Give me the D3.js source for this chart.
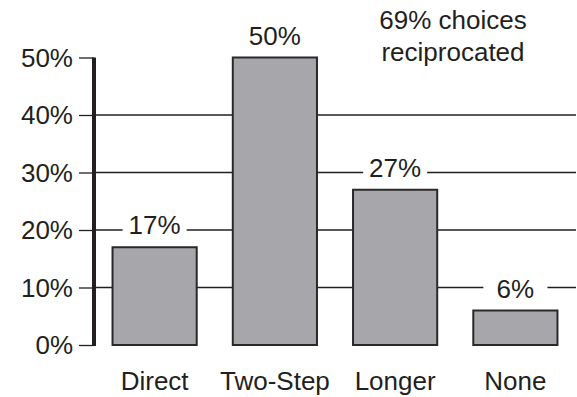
<!DOCTYPE html>
<html>
<head>
<meta charset="utf-8">
<script src="https://cdn.jsdelivr.net/npm/d3@7"></script>
<style>
  html, body { margin: 0; padding: 0; background: #fff; }
  svg { display: block; font-family: "Liberation Sans", Arial, Helvetica, sans-serif; }
</style>
</head>
<body>
<svg id="chart" width="577" height="397"></svg>
<script>
// Share of friendship choices by path type
const categories = ["Direct", "Two-Step", "Longer", "None"];
const shares = [17, 50, 27, 6];
const yTicks = [0, 10, 20, 30, 40, 50];
const gridValues = [10, 20, 30, 40];
const noteLines = ["69% choices", "reciprocated"];

const W = 577, H = 397;
const svg = d3.select("#chart");
const ink = "#231f20";
const fontSize = 26;

const x = d3.scaleBand().domain(categories).range([94.5, 575.5]).paddingInner(0.3).paddingOuter(0.15);
const y = d3.scaleLinear().domain([0, 50]).range([345, 57.5]);

const axisX = 94;

// horizontal gridlines, behind the bars
svg.append("g").selectAll("line").data(gridValues).join("line")
  .attr("x1", axisX).attr("x2", 576)
  .attr("y1", d => y(d)).attr("y2", d => y(d))
  .attr("stroke", ink).attr("stroke-width", 1.3);

// bars
svg.append("g").selectAll("rect").data(categories).join("rect")
  .attr("x", d => x(d))
  .attr("width", x.bandwidth())
  .attr("y", (d, i) => y(shares[i]))
  .attr("height", (d, i) => y(0) - y(shares[i]))
  .attr("fill", "#a7a6aa")
  .attr("stroke", "#2b2829")
  .attr("stroke-width", 2);

// value labels on a white patch that breaks the gridlines
const labels = svg.append("g").selectAll("g").data(categories).join("g")
  .attr("transform", (d, i) => `translate(${x(d) + x.bandwidth() / 2},${y(shares[i]) - 13})`);
labels.append("rect")
  .attr("x", -32).attr("width", 64)
  .attr("y", -22).attr("height", 26)
  .attr("fill", "#fff");
labels.append("text")
  .attr("text-anchor", "middle")
  .attr("font-size", fontSize)
  .attr("fill", ink)
  .text((d, i) => shares[i] + "%");

// y axis: ticks and labels via d3.axisLeft, then a heavy spine
const yAxis = d3.axisLeft(y)
  .tickValues(yTicks)
  .tickFormat(d => d + "%")
  .tickSize(15)
  .tickPadding(6);
const gy = svg.append("g").attr("transform", `translate(${axisX},0)`).call(yAxis);
gy.select(".domain").remove();
gy.selectAll(".tick line").attr("stroke", ink).attr("stroke-width", 1.3);
gy.selectAll(".tick text")
  .attr("font-size", fontSize)
  .attr("font-family", "'Liberation Sans', Arial, sans-serif")
  .attr("fill", ink)
  .attr("dy", "0.34em");

svg.append("line")
  .attr("x1", axisX).attr("x2", axisX)
  .attr("y1", y(50)).attr("y2", y(0) + 1)
  .attr("stroke", ink).attr("stroke-width", 4);

// category labels
const xAxis = d3.axisBottom(x).tickSize(0).tickPadding(0);
const gx = svg.append("g").attr("transform", `translate(0,${y(0)})`).call(xAxis);
gx.select(".domain").remove();
gx.selectAll(".tick text")
  .attr("font-size", fontSize)
  .attr("font-family", "'Liberation Sans', Arial, sans-serif")
  .attr("fill", ink)
  .attr("y", 0)
  .attr("dy", 45);

// note in the upper right
svg.append("text")
  .attr("x", 453).attr("y", 29)
  .attr("text-anchor", "middle")
  .attr("font-size", fontSize)
  .attr("fill", ink)
  .selectAll("tspan").data(noteLines).join("tspan")
  .attr("x", 453)
  .attr("dy", (d, i) => i === 0 ? 0 : 32)
  .text(d => d);
</script>
</body>
</html>
